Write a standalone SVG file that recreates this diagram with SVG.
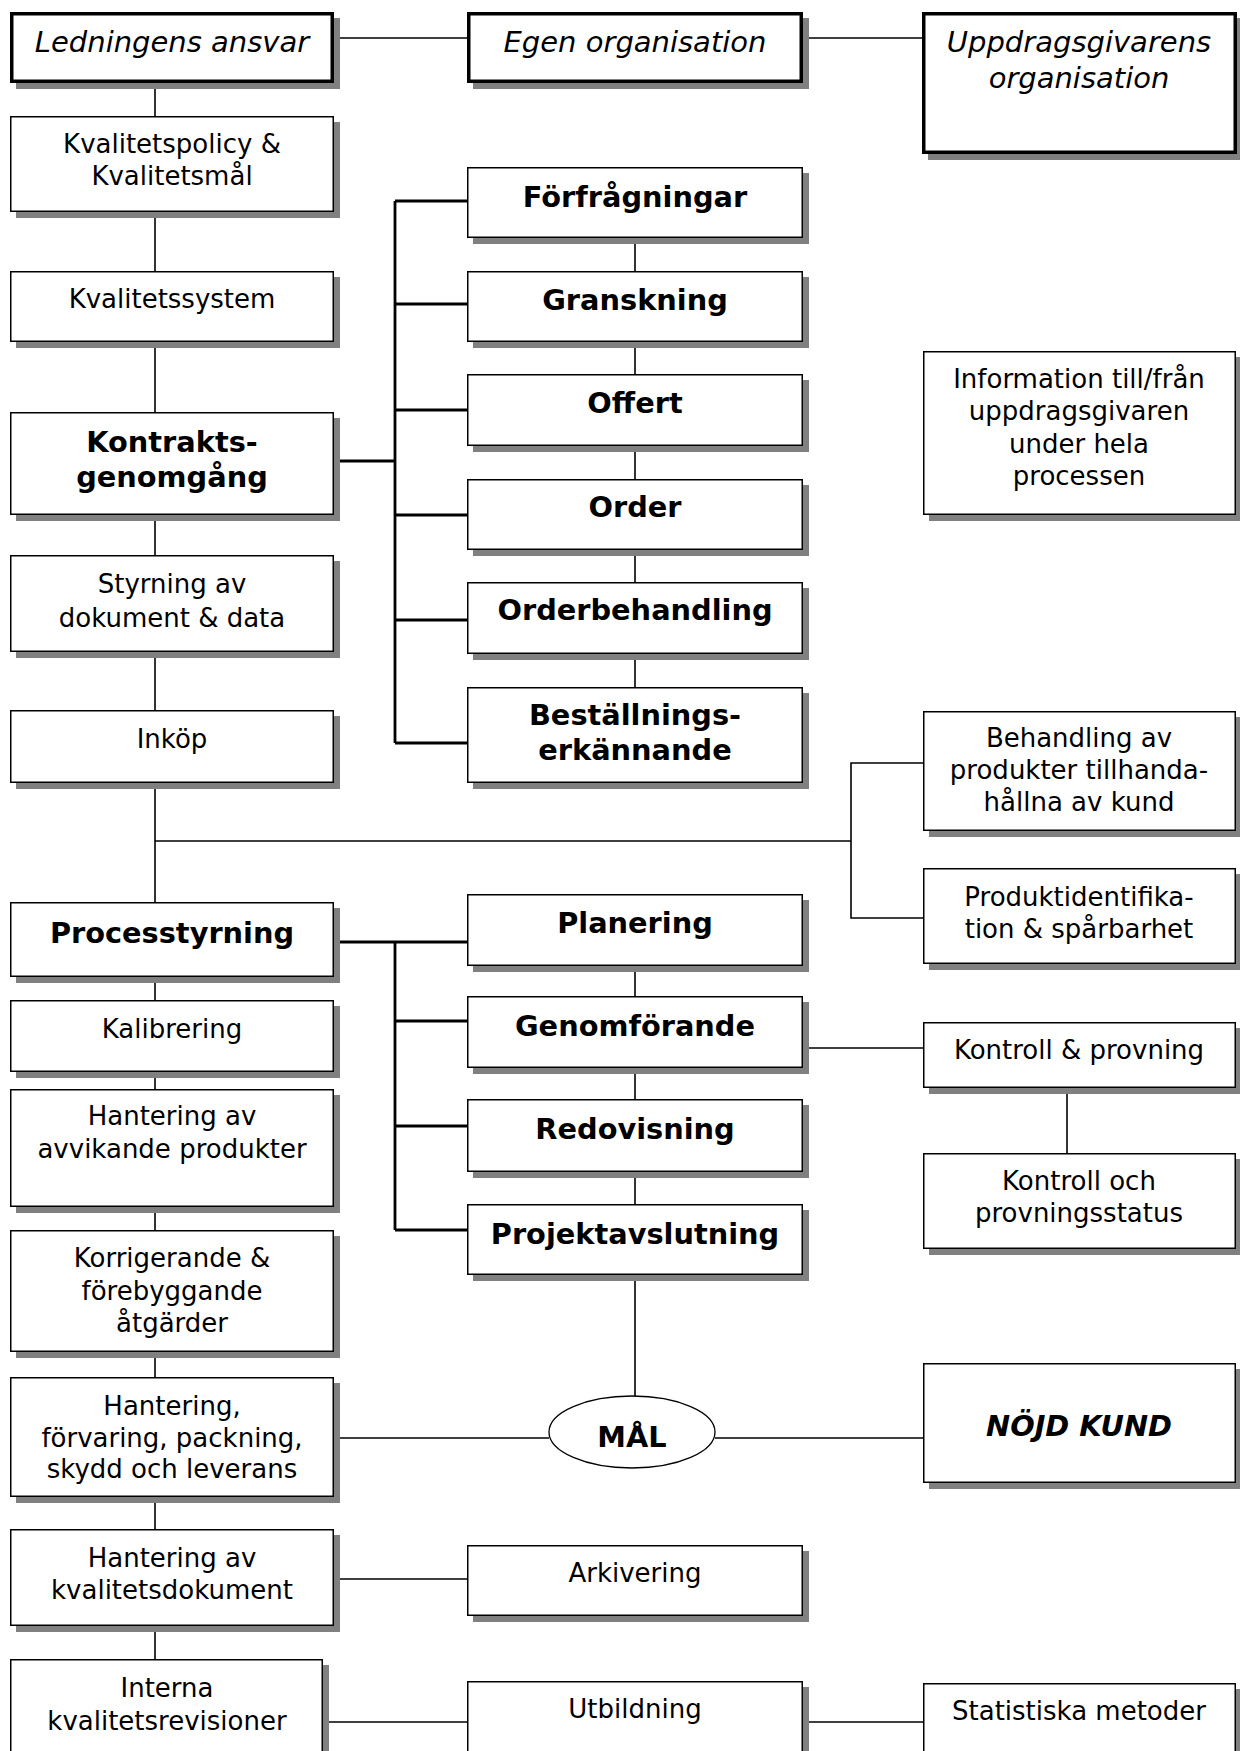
<svg xmlns="http://www.w3.org/2000/svg" width="1240" height="1751" viewBox="0 0 1240 1751">
<style>
.sh{fill:#808080}
.bx{fill:#fff;stroke:#000;stroke-width:1.5}
.bk{fill:#fff;stroke:#000;stroke-width:3.5}
.t{font-family:"DejaVu Sans",Verdana,sans-serif;font-size:26px;text-anchor:middle;fill:#000}
.b{font-weight:bold;font-size:28.8px}
.i{font-style:italic;font-size:29px}
.c{stroke:#000;stroke-width:1.6;fill:none}
.ck{stroke-width:2.8}
</style>
<rect width="1240" height="1751" fill="#fff"/>
<g id="connectors">
<path class="c" d="M334 38H467M803 38H923"/>
<path class="c" d="M155 83V116M155 212V271M155 342V412M155 515V555M155 652V710M155 783V902M155 977V1000M155 1072V1089M155 1207V1230M155 1352V1377M155 1497V1529M155 1626V1659"/>
<path class="c" d="M155 841H851M923 763H851V918H923"/>
<path class="c" d="M635 238V271M635 342V374M635 446V479M635 550V582M635 654V687M635 966V996M635 1068V1099M635 1172V1204M635 1275V1396"/>
<path class="c" d="M803 1048H923M1067 1088V1153"/>
<path class="c" d="M334 1438H549M715 1438H923"/>
<path class="c" d="M334 1579H467M323 1722H467M803 1722H923"/>
<path class="c ck" d="M334 461H395M395 201V743M395 201H467M395 304H467M395 410H467M395 515H467M395 620H467M395 743H467"/>
<path class="c ck" d="M334 942H467M395 942V1230M395 1021H467M395 1126H467M395 1230H467"/>
</g>

<g id="ledningens-ansvar"><rect class="sh" x="16" y="18" width="324" height="71"/><rect class="bk" x="11.75" y="13.75" width="320.5" height="67.5"/><text class="t i" x="172" y="52">Ledningens ansvar</text></g>
<g id="egen-organisation"><rect class="sh" x="473" y="18" width="336" height="71"/><rect class="bk" x="468.75" y="13.75" width="332.5" height="67.5"/><text class="t i" x="635" y="52">Egen organisation</text></g>
<g id="uppdragsgivarens-organisation"><rect class="sh" x="928" y="18" width="315" height="142"/><rect class="bk" x="923.75" y="13.75" width="311.5" height="138.5"/><text class="t i" x="1079" y="52">Uppdragsgivarens</text><text class="t i" x="1079" y="88">organisation</text></g>

<g id="kvalitetspolicy"><rect class="sh" x="16" y="122" width="324" height="96"/><rect class="bx" x="10.75" y="116.75" width="322.5" height="94.5"/><text class="t" x="172" y="153">Kvalitetspolicy &amp;</text><text class="t" x="172" y="185">Kvalitetsmål</text></g>
<g id="kvalitetssystem"><rect class="sh" x="16" y="277" width="324" height="71"/><rect class="bx" x="10.75" y="271.75" width="322.5" height="69.5"/><text class="t" x="172" y="308">Kvalitetssystem</text></g>
<g id="kontraktsgenomgang"><rect class="sh" x="16" y="418" width="324" height="103"/><rect class="bx" x="10.75" y="412.75" width="322.5" height="101.5"/><text class="t b" x="172" y="452">Kontrakts-</text><text class="t b" x="172" y="487">genomgång</text></g>
<g id="styrning"><rect class="sh" x="16" y="561" width="324" height="97"/><rect class="bx" x="10.75" y="555.75" width="322.5" height="95.5"/><text class="t" x="172" y="593">Styrning av</text><text class="t" x="172" y="627">dokument &amp; data</text></g>
<g id="inkop"><rect class="sh" x="16" y="716" width="324" height="73"/><rect class="bx" x="10.75" y="710.75" width="322.5" height="71.5"/><text class="t" x="172" y="748">Inköp</text></g>
<g id="processtyrning"><rect class="sh" x="16" y="908" width="324" height="75"/><rect class="bx" x="10.75" y="902.75" width="322.5" height="73.5"/><text class="t b" x="172" y="943">Processtyrning</text></g>
<g id="kalibrering"><rect class="sh" x="16" y="1006" width="324" height="72"/><rect class="bx" x="10.75" y="1000.75" width="322.5" height="70.5"/><text class="t" x="172" y="1038">Kalibrering</text></g>
<g id="avvikande"><rect class="sh" x="16" y="1095" width="324" height="118"/><rect class="bx" x="10.75" y="1089.75" width="322.5" height="116.5"/><text class="t" x="172" y="1125">Hantering av</text><text class="t" x="172" y="1158">avvikande produkter</text></g>
<g id="korrigerande"><rect class="sh" x="16" y="1236" width="324" height="122"/><rect class="bx" x="10.75" y="1230.75" width="322.5" height="120.5"/><text class="t" x="172" y="1267">Korrigerande &amp;</text><text class="t" x="172" y="1300">förebyggande</text><text class="t" x="172" y="1332">åtgärder</text></g>
<g id="hantering-leverans"><rect class="sh" x="16" y="1383" width="324" height="120"/><rect class="bx" x="10.75" y="1377.75" width="322.5" height="118.5"/><text class="t" x="172" y="1415">Hantering,</text><text class="t" x="172" y="1447">förvaring, packning,</text><text class="t" x="172" y="1478">skydd och leverans</text></g>
<g id="kvalitetsdokument"><rect class="sh" x="16" y="1535" width="324" height="97"/><rect class="bx" x="10.75" y="1529.75" width="322.5" height="95.5"/><text class="t" x="172" y="1567">Hantering av</text><text class="t" x="172" y="1599">kvalitetsdokument</text></g>
<g id="interna"><rect class="sh" x="16" y="1665" width="313" height="110"/><rect class="bx" x="10.75" y="1659.75" width="311.5" height="110"/><text class="t" x="167" y="1697">Interna</text><text class="t" x="167" y="1730">kvalitetsrevisioner</text></g>

<g id="forfragningar"><rect class="sh" x="473" y="173" width="336" height="71"/><rect class="bx" x="467.75" y="167.75" width="334.5" height="69.5"/><text class="t b" x="635" y="207">Förfrågningar</text></g>
<g id="granskning"><rect class="sh" x="473" y="277" width="336" height="71"/><rect class="bx" x="467.75" y="271.75" width="334.5" height="69.5"/><text class="t b" x="635" y="310">Granskning</text></g>
<g id="offert"><rect class="sh" x="473" y="380" width="336" height="72"/><rect class="bx" x="467.75" y="374.75" width="334.5" height="70.5"/><text class="t b" x="635" y="413">Offert</text></g>
<g id="order"><rect class="sh" x="473" y="485" width="336" height="71"/><rect class="bx" x="467.75" y="479.75" width="334.5" height="69.5"/><text class="t b" x="635" y="517">Order</text></g>
<g id="orderbehandling"><rect class="sh" x="473" y="588" width="336" height="72"/><rect class="bx" x="467.75" y="582.75" width="334.5" height="70.5"/><text class="t b" x="635" y="620">Orderbehandling</text></g>
<g id="bestallningserkannande"><rect class="sh" x="473" y="693" width="336" height="96"/><rect class="bx" x="467.75" y="687.75" width="334.5" height="94.5"/><text class="t b" x="635" y="725">Beställnings-</text><text class="t b" x="635" y="760">erkännande</text></g>
<g id="planering"><rect class="sh" x="473" y="900" width="336" height="72"/><rect class="bx" x="467.75" y="894.75" width="334.5" height="70.5"/><text class="t b" x="635" y="933">Planering</text></g>
<g id="genomforande"><rect class="sh" x="473" y="1002" width="336" height="72"/><rect class="bx" x="467.75" y="996.75" width="334.5" height="70.5"/><text class="t b" x="635" y="1036">Genomförande</text></g>
<g id="redovisning"><rect class="sh" x="473" y="1105" width="336" height="73"/><rect class="bx" x="467.75" y="1099.75" width="334.5" height="71.5"/><text class="t b" x="635" y="1139">Redovisning</text></g>
<g id="projektavslutning"><rect class="sh" x="473" y="1210" width="336" height="71"/><rect class="bx" x="467.75" y="1204.75" width="334.5" height="69.5"/><text class="t b" x="635" y="1244">Projektavslutning</text></g>
<g id="mal"><ellipse cx="632" cy="1432" rx="83" ry="36" fill="#fff" stroke="#000" stroke-width="1.3"/><text class="t b" x="632" y="1447">MÅL</text></g>
<g id="arkivering"><rect class="sh" x="473" y="1551" width="336" height="71"/><rect class="bx" x="467.75" y="1545.75" width="334.5" height="69.5"/><text class="t" x="635" y="1582">Arkivering</text></g>
<g id="utbildning"><rect class="sh" x="473" y="1687" width="336" height="90"/><rect class="bx" x="467.75" y="1681.75" width="334.5" height="90"/><text class="t" x="635" y="1718">Utbildning</text></g>

<g id="information"><rect class="sh" x="929" y="357" width="313" height="164"/><rect class="bx" x="923.75" y="351.75" width="311.5" height="162.5"/><text class="t" x="1079" y="388">Information till/från</text><text class="t" x="1079" y="420">uppdragsgivaren</text><text class="t" x="1079" y="453">under hela</text><text class="t" x="1079" y="485">processen</text></g>
<g id="behandling"><rect class="sh" x="929" y="717" width="313" height="120"/><rect class="bx" x="923.75" y="711.75" width="311.5" height="118.5"/><text class="t" x="1079" y="747">Behandling av</text><text class="t" x="1079" y="779">produkter tillhanda-</text><text class="t" x="1079" y="811">hållna av kund</text></g>
<g id="produktidentifikation"><rect class="sh" x="929" y="874" width="313" height="96"/><rect class="bx" x="923.75" y="868.75" width="311.5" height="94.5"/><text class="t" x="1079" y="906">Produktidentifika-</text><text class="t" x="1079" y="938">tion &amp; spårbarhet</text></g>
<g id="kontroll-provning"><rect class="sh" x="929" y="1028" width="313" height="66"/><rect class="bx" x="923.75" y="1022.75" width="311.5" height="64.5"/><text class="t" x="1079" y="1059">Kontroll &amp; provning</text></g>
<g id="provningsstatus"><rect class="sh" x="929" y="1159" width="313" height="96"/><rect class="bx" x="923.75" y="1153.75" width="311.5" height="94.5"/><text class="t" x="1079" y="1190">Kontroll och</text><text class="t" x="1079" y="1222">provningsstatus</text></g>
<g id="nojd-kund"><rect class="sh" x="929" y="1369" width="313" height="120"/><rect class="bx" x="923.75" y="1363.75" width="311.5" height="118.5"/><text class="t b" x="1079" y="1436" font-style="italic">NÖJD KUND</text></g>
<g id="statistiska"><rect class="sh" x="929" y="1689" width="313" height="90"/><rect class="bx" x="923.75" y="1683.75" width="311.5" height="90"/><text class="t" x="1079" y="1720">Statistiska metoder</text></g>
</svg>
